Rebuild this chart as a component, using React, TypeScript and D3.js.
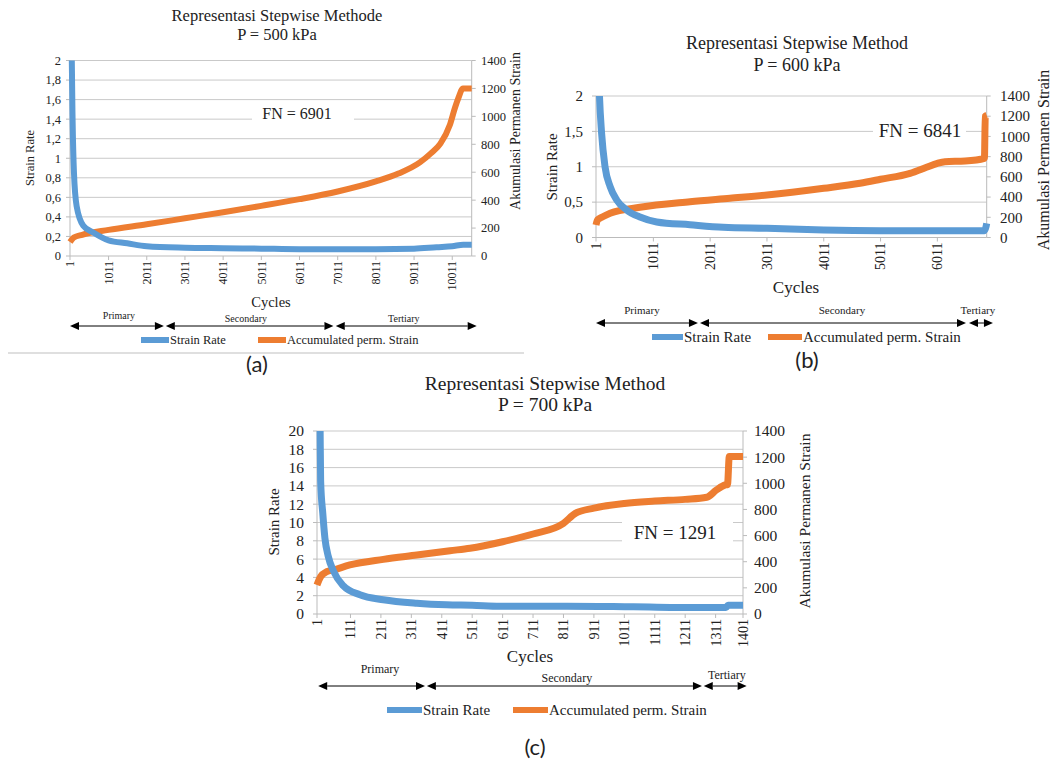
import React from 'react';
import * as d3 from 'd3';

// ---- chart (a) P = 500 kPa
const rateCyclesA = [1, 30, 45, 70, 105, 175, 350, 610, 1011, 1500, 2011, 3011, 4011, 5011, 6011, 7011, 8011, 9011, 9600, 10011, 10300, 10520];
const rateA = [6, 3, 2.1, 1.37, 0.85, 0.51, 0.31, 0.24, 0.16, 0.13, 0.1, 0.085, 0.08, 0.075, 0.07, 0.07, 0.07, 0.075, 0.09, 0.1, 0.115, 0.115];
const accCyclesA = [1, 100, 320, 1011, 2011, 3011, 4011, 5011, 6011, 7011, 8011, 8600, 9163, 9450, 9700, 9950, 10080, 10170, 10290, 10520];
const accA = [100, 132, 152, 187, 227, 270, 313, 359, 407, 462, 534, 590, 670, 735, 805, 940, 1060, 1130, 1200, 1200];
const xTicksA = [1, 1011, 2011, 3011, 4011, 5011, 6011, 7011, 8011, 9011, 10011];
const yTicksA = [0, 0.2, 0.4, 0.6, 0.8, 1, 1.2, 1.4, 1.6, 1.8, 2];

// ---- chart (b) P = 600 kPa
const rateCyclesB = [1, 40, 60, 100, 160, 250, 365, 540, 775, 1070, 1655, 2240, 3011, 4011, 5011, 6011, 6840, 6870, 6880];
const rateB = [5, 2.6, 2.05, 1.47, 1.0, 0.72, 0.53, 0.39, 0.29, 0.22, 0.18, 0.145, 0.13, 0.106, 0.097, 0.097, 0.097, 0.16, 0.2];
const accCyclesB = [1, 30, 120, 250, 775, 1655, 2360, 3011, 4011, 4650, 5011, 5530, 5820, 6011, 6145, 6500, 6840, 6855, 6880];
const accB = [124, 175, 205, 240, 299, 354, 388, 420, 487, 537, 576, 635, 695, 734, 750, 757, 784, 1200, 1210];
const xTicksB = [1, 1011, 2011, 3011, 4011, 5011, 6011];
const yTicksB = [0, 0.5, 1, 1.5, 2];

// ---- chart (c) P = 700 kPa
const rateCyclesC = [1, 11, 13, 20, 27, 38, 55, 87, 142, 219, 329, 427, 511, 602, 822, 1041, 1260, 1345, 1352, 1401];
const rateC = [40, 21, 14.5, 11, 8.3, 6.3, 4.7, 3.1, 2.1, 1.55, 1.17, 1.0, 0.95, 0.85, 0.85, 0.78, 0.7, 0.7, 0.95, 0.95];
const accCyclesC = [1, 13, 33, 55, 109, 219, 329, 438, 504, 611, 711, 811, 850, 911, 1011, 1111, 1211, 1282, 1314, 1342, 1350, 1356, 1401];
const accC = [222, 286, 324, 337, 375, 418, 451, 484, 503, 553, 612, 694, 770, 810, 846, 864, 877, 893, 949, 987, 990, 1205, 1205];
const xTicksC = [1, 111, 211, 311, 411, 511, 611, 711, 811, 911, 1011, 1111, 1211, 1311, 1401];
const yTicksC = [0, 2, 4, 6, 8, 10, 12, 14, 16, 18, 20];

const rightTicks = [0, 200, 400, 600, 800, 1000, 1200, 1400];
const phaseNames = ['Primary', 'Secondary', 'Tertiary'];
// phase arrow spans and label positions, in cycles
const phaseSpanA = [[1, 2460, 1283], [2510, 6900, 4608], [6960, 10650, 8744]];
const phaseSpanB = [[1, 1796, 810], [1832, 6515, 4331], [6568, 6990, 6725]];
const phaseSpanC = [[5, 356, 208], [362, 1266, 822], [1272, 1413, 1348]];

const BLUE = '#5B9BD5';
const ORANGE = '#ED7D31';
const SERIF = "'Liberation Serif', 'Times New Roman', serif";

const comma = (v: number) => String(v).replace('.', ',');

const charts = [
  {
    id: 'a', title: 'Representasi Stepwise Methode', sub: 'P = 500 kPa', fn: 'FN = 6901', tag: '(a)',
    rateCycles: rateCyclesA, rate: rateA, accCycles: accCyclesA, acc: accA,
    xTicks: xTicksA, yTicks: yTicksA, xMax: 10520, yMax: 2, fmt: comma, phases: phaseSpanA,
    plot: { l: 70, r: 471.7, t: 60.5, b: 256 },
    titleX: 277, titleY: [21, 40], titleSize: 16.5,
    tickSize: 12.5, xTickSize: 12, leftTickX: 61, rightTickX: 481,
    leftTitle: [30, 158, 12.5], rightTitle: [515, 131, 14], cycles: [271, 302, 14.5],
    fnBox: [252, 354, 113, 297, 16], arrowY: 326, phaseLabelDy: [-11, -8, -8], phaseSize: 10,
    legend: { y: 340, blue: [141, 169], orange: [258, 286], size: 12.5 }, lineW: 6,
    tagPos: [257, 372], sep: true,
  },
  {
    id: 'b', title: 'Representasi Stepwise Method', sub: 'P = 600 kPa', fn: 'FN = 6841', tag: '(b)',
    rateCycles: rateCyclesB, rate: rateB, accCycles: accCyclesB, acc: accB,
    xTicks: xTicksB, yTicks: yTicksB, xMax: 6880, yMax: 2, fmt: comma, phases: phaseSpanB,
    plot: { l: 596, r: 986.7, t: 96, b: 237.5 },
    titleX: 797, titleY: [49, 71], titleSize: 18,
    tickSize: 15, xTickSize: 14, leftTickX: 583, rightTickX: 1000,
    leftTitle: [552, 167, 15], rightTitle: [1043, 160, 16], cycles: [796, 287, 17],
    fnBox: [873, 966, 130, 920, 19], arrowY: 323, phaseLabelDy: [-13, -13, -13], phaseSize: 11,
    legend: { y: 337, blue: [652, 683], orange: [768, 802], size: 15 }, lineW: 7,
    tagPos: [807, 368], sep: false,
  },
  {
    id: 'c', title: 'Representasi Stepwise Method', sub: 'P = 700 kPa', fn: 'FN = 1291', tag: '(c)',
    rateCycles: rateCyclesC, rate: rateC, accCycles: accCyclesC, acc: accC,
    xTicks: xTicksC, yTicks: yTicksC, xMax: 1401, yMax: 20, fmt: (v: number) => String(v), phases: phaseSpanC,
    plot: { l: 317, r: 743, t: 431, b: 614 },
    titleX: 545, titleY: [390, 411], titleSize: 19.5,
    tickSize: 15.5, xTickSize: 14, leftTickX: 304, rightTickX: 754,
    leftTitle: [274, 522, 15], rightTitle: [805, 521, 15.5], cycles: [530, 656, 17],
    fnBox: [622, 733, 532, 675, 19], arrowY: 686, phaseLabelDy: [-17, -8, -11], phaseSize: 12,
    legend: { y: 710, blue: [387, 422], orange: [513, 548], size: 15 }, lineW: 7,
    tagPos: [535, 755], sep: false,
  },
];

function Chart({ c }: { c: any }) {
  const { plot } = c;
  const x = d3.scaleLinear().domain([1, c.xMax]).range([plot.l, plot.r]);
  const yL = d3.scaleLinear().domain([0, c.yMax]).range([plot.b, plot.t]);
  const yR = d3.scaleLinear().domain([0, 1400]).range([plot.b, plot.t]);

  const rateLine = d3.line<number>()
    .x((_, i) => x(c.rateCycles[i]))
    .y(d => yL(d))
    .curve(d3.curveMonotoneX);
  const accLine = d3.line<number>()
    .x((_, i) => x(c.accCycles[i]))
    .y(d => yR(d))
    .curve(d3.curveMonotoneX);

  const grid = '#C9C9C9';
  const axis = '#BBBBBB';
  const clipId = `clip-${c.id}`;
  const [bx0, bx1, by, fx, fsize] = c.fnBox;
  const ah = 9; // arrow head length

  return (
    <g style={{ fontFamily: SERIF }} fill="#222">
      <defs>
        <clipPath id={clipId}>
          <rect x={plot.l - 10} y={plot.t} width={plot.r - plot.l + 20} height={plot.b - plot.t + 10} />
        </clipPath>
      </defs>

      <text x={c.titleX} y={c.titleY[0]} textAnchor="middle" fontSize={c.titleSize}>{c.title}</text>
      <text x={c.titleX} y={c.titleY[1]} textAnchor="middle" fontSize={c.titleSize}>{c.sub}</text>

      {/* gridlines */}
      {c.yTicks.map((t: number) => (
        <line key={'g' + t} x1={plot.l} x2={plot.r} y1={yL(t)} y2={yL(t)} stroke={t === 0 ? axis : grid} strokeWidth={1} />
      ))}
      <line x1={plot.l} x2={plot.l} y1={plot.t} y2={plot.b} stroke={axis} />
      <line x1={plot.r} x2={plot.r} y1={plot.t} y2={plot.b} stroke={axis} />

      {/* left axis */}
      {c.yTicks.map((t: number) => (
        <g key={'l' + t}>
          <line x1={plot.l - 4} x2={plot.l} y1={yL(t)} y2={yL(t)} stroke={axis} />
          <text x={c.leftTickX} y={yL(t)} dy="0.35em" textAnchor="end" fontSize={c.tickSize}>{c.fmt(t)}</text>
        </g>
      ))}
      {/* right axis */}
      {rightTicks.map(t => (
        <g key={'r' + t}>
          <line x1={plot.r} x2={plot.r + 4} y1={yR(t)} y2={yR(t)} stroke={axis} />
          <text x={c.rightTickX} y={yR(t)} dy="0.35em" textAnchor="start" fontSize={c.tickSize}>{t}</text>
        </g>
      ))}
      {/* x axis */}
      {c.xTicks.map((t: number) => (
        <g key={'x' + t}>
          <line x1={x(t)} x2={x(t)} y1={plot.b} y2={plot.b + 4} stroke={axis} />
          <text transform={`translate(${x(t)},${plot.b + 5}) rotate(-90)`} dy="0.35em" textAnchor="end" fontSize={c.xTickSize}>{t}</text>
        </g>
      ))}

      <text transform={`translate(${c.leftTitle[0]},${c.leftTitle[1]}) rotate(-90)`} dy="0.35em" textAnchor="middle" fontSize={c.leftTitle[2]}>Strain Rate</text>
      <text transform={`translate(${c.rightTitle[0]},${c.rightTitle[1]}) rotate(-90)`} dy="0.35em" textAnchor="middle" fontSize={c.rightTitle[2]}>Akumulasi Permanen Strain</text>
      <text x={c.cycles[0]} y={c.cycles[1]} dy="0.35em" textAnchor="middle" fontSize={c.cycles[2]}>Cycles</text>

      {/* FN text box */}
      <rect x={bx0} y={by - fsize * 0.7} width={bx1 - bx0} height={fsize * 1.4} fill="#fff" />
      <text x={fx} y={by} dy="0.35em" textAnchor="middle" fontSize={fsize}>{c.fn}</text>

      {/* series */}
      <g clipPath={`url(#${clipId})`} fill="none" strokeLinejoin="round">
        <path d={accLine(c.acc) || ''} stroke={ORANGE} strokeWidth={c.lineW} />
        <path d={rateLine(c.rate) || ''} stroke={BLUE} strokeWidth={c.lineW} />
      </g>

      {/* phase arrows */}
      {c.phases.map((p: number[], i: number) => {
        const x0 = x(p[0]);
        const x1 = x(p[1]);
        const y = c.arrowY;
        return (
          <g key={'p' + i}>
            <line x1={x0 + ah} x2={x1 - ah} y1={y} y2={y} stroke="#000" strokeWidth={1} />
            <path d={`M${x0},${y}L${x0 + ah},${y - 4}L${x0 + ah},${y + 4}Z`} fill="#000" />
            <path d={`M${x1},${y}L${x1 - ah},${y - 4}L${x1 - ah},${y + 4}Z`} fill="#000" />
            <text x={x(p[2])} y={y + c.phaseLabelDy[i]} dy="0.35em" textAnchor="middle" fontSize={c.phaseSize}>{phaseNames[i]}</text>
          </g>
        );
      })}

      {/* legend */}
      <line x1={c.legend.blue[0]} x2={c.legend.blue[1]} y1={c.legend.y} y2={c.legend.y} stroke={BLUE} strokeWidth={6} />
      <text x={c.legend.blue[1] + 1} y={c.legend.y} dy="0.35em" fontSize={c.legend.size}>Strain Rate</text>
      <line x1={c.legend.orange[0]} x2={c.legend.orange[1]} y1={c.legend.y} y2={c.legend.y} stroke={ORANGE} strokeWidth={6} />
      <text x={c.legend.orange[1] + 1} y={c.legend.y} dy="0.35em" fontSize={c.legend.size}>Accumulated perm. Strain</text>

      {c.sep && <line x1={8} x2={524} y1={353} y2={353} stroke="#BFBFBF" />}
      <text x={c.tagPos[0]} y={c.tagPos[1]} textAnchor="middle" fontSize={22} style={{ fontFamily: "Lato, 'Open Sans', sans-serif" }}>{c.tag}</text>
    </g>
  );
}

export default function App() {
  return (
    <svg width={1051} height={762} style={{ position: 'absolute', left: 0, top: 0, background: '#fff' }}>
      <rect width={1051} height={762} fill="#fff" />
      {charts.map(c => <Chart key={c.id} c={c} />)}
    </svg>
  );
}
